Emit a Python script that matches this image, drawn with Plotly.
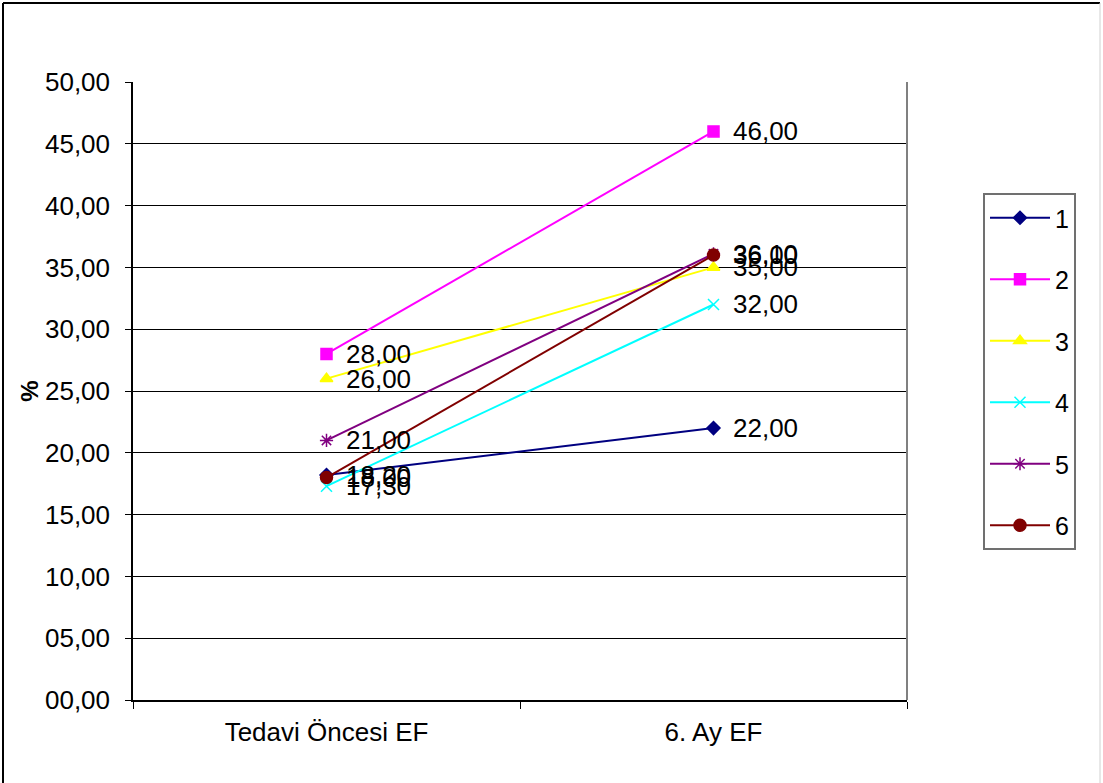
import plotly.graph_objects as go

# Ejection fraction (%) per patient, before treatment and at month 6
categories = ["Tedavi Öncesi EF", "6. Ay EF"]
series_names = ["1", "2", "3", "4", "5", "6"]
ef_before = [18.20, 28.00, 26.00, 17.30, 21.00, 18.00]
ef_month6 = [22.00, 46.00, 35.00, 32.00, 36.10, 36.00]

y_ticks = [0, 5, 10, 15, 20, 25, 30, 35, 40, 45, 50]
y_tick_labels = ["00,00", "05,00", "10,00", "15,00", "20,00", "25,00",
                 "30,00", "35,00", "40,00", "45,00", "50,00"]

colors = ["#000080", "#FF00FF", "#FFFF00", "#00FFFF", "#800080", "#800000"]
symbols = ["diamond", "square", "triangle-up", "x-thin-open", "asterisk-open", "circle"]
msizes = [10, 11, 11, 11, 11, 12]

FONT = "Liberation Sans, Arial, sans-serif"
W, H = 1103, 783
L, R, T, B = 133, 196, 82, 83
pw, ph = W - L - R, H - T - B


def fmt(v):
    return f"{v:05.2f}".replace(".", ",")


fig = go.Figure()
annotations = []
for i, name in enumerate(series_names):
    ys = [ef_before[i], ef_month6[i]]
    fig.add_trace(go.Scatter(
        x=categories, y=ys, name=name, mode="lines+markers",
        legendgroup=name,
        line=dict(color=colors[i], width=2),
        marker=dict(symbol=symbols[i], size=msizes[i], color=colors[i],
                    line=dict(color=colors[i], width=1.5)),
        hoverinfo="skip",
    ))
    for cx, v in zip(categories, ys):
        annotations.append(dict(
            x=cx, y=v, xref="x", yref="y", text=fmt(v), showarrow=False,
            xanchor="left", yanchor="middle", xshift=17,
            font=dict(family=FONT, size=26, color="black"),
        ))


def px_x(p):
    return (p - L) / pw


def px_y(p):
    return (H - B - p) / ph


shapes = [
    # outer chart frame
    dict(type="line", xref="paper", yref="paper", x0=px_x(3), x1=px_x(1100),
         y0=px_y(3), y1=px_y(3), line=dict(color="black", width=2)),
    dict(type="line", xref="paper", yref="paper", x0=px_x(3), x1=px_x(3),
         y0=px_y(3), y1=px_y(790), line=dict(color="black", width=2)),
    dict(type="line", xref="paper", yref="paper", x0=px_x(1100), x1=px_x(1100),
         y0=px_y(3), y1=px_y(790), line=dict(color="#d0d0d0", width=1)),
    # plot area border (right)
    dict(type="line", xref="paper", yref="paper", x0=1, x1=1, y0=0, y1=1,
         line=dict(color="#808080", width=2)),
]

fig.update_layout(
    width=W, height=H,
    margin=dict(l=L, r=R, t=T, b=B, autoexpand=False),
    paper_bgcolor="white", plot_bgcolor="white",
    font=dict(family=FONT, size=26, color="black"),
    showlegend=True,
    legend=dict(
        x=px_x(983), y=px_y(193), xanchor="left", yanchor="top",
        bordercolor="#707070", borderwidth=2, bgcolor="white",
        font=dict(family=FONT, size=25, color="black"),
        traceorder="grouped", tracegroupgap=26,
        itemwidth=60, entrywidth=40, entrywidthmode="pixels",
    ),
    xaxis=dict(
        type="category", range=[-0.5, 1.5], tickson="boundaries",
        ticks="outside", ticklen=7, tickcolor="black", tickwidth=1,
        showline=True, linecolor="black", linewidth=2,
        showgrid=False, zeroline=False,
        tickfont=dict(family=FONT, size=26, color="black"),
        ticklabelstandoff=8,
    ),
    yaxis=dict(
        range=[0, 50], tickvals=y_ticks, ticktext=y_tick_labels,
        ticks="outside", ticklen=6, tickcolor="black",
        showline=True, linecolor="black", linewidth=1.5,
        showgrid=True, gridcolor="black", gridwidth=1, zeroline=False,
        tickfont=dict(family=FONT, size=26, color="black"),
        ticklabelstandoff=10,
        title=dict(text="<b>%</b>", font=dict(family=FONT, size=24, color="black"),
                   standoff=0),
    ),
    annotations=annotations,
    shapes=shapes,
)

fig.write_html("out.html")
